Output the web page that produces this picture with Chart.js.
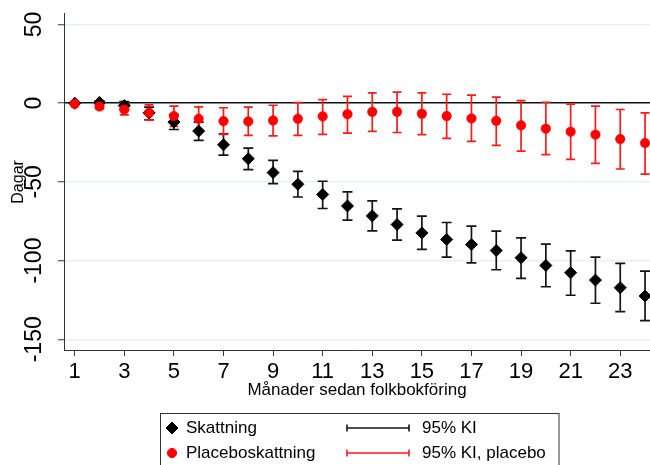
<!DOCTYPE html>
<html>
<head>
<meta charset="utf-8">
<script src="https://cdn.jsdelivr.net/npm/chart.js@4.4.1/dist/chart.umd.min.js"></script>
<style>
  html, body { margin: 0; padding: 0; background: #fff; }
  canvas { display: block; }
</style>
</head>
<body>
<canvas id="chart" width="650" height="465"></canvas>
<script>
// Months since registration (x) and tick labels
const months = [1,2,3,4,5,6,7,8,9,10,11,12,13,14,15,16,17,18,19,20,21,22,23,24];
const xTicks = [1,3,5,7,9,11,13,15,17,19,21,23];
const yTicks = [-150,-100,-50,0,50];

// Estimate (days) with 95% confidence interval
const est   = [0, 0.5, -1.5, -6.1, -12, -17.7, -26.4, -35.3, -44.1, -51.5, -58, -65.3, -71.6, -77.1, -82.4, -86.6, -89.8, -93.6, -98.2, -103.1, -107.7, -112.4, -117.2, -122.5];
const estLo = [0, -0.5, -4, -10.5, -16.7, -23.6, -33, -42.2, -51.1, -59.6, -66.9, -74.3, -81.1, -87, -92.9, -97.8, -101.4, -105.8, -111.3, -116.6, -122, -127.1, -132.4, -138.1];
const estHi = [0, 1.5, 1, -2.5, -7.3, -12, -19.4, -28.5, -36.3, -43.3, -49.6, -56.4, -62.1, -67.2, -71.8, -75.8, -78.1, -81.3, -85.5, -89.5, -93.8, -97.8, -101.8, -106.7];

// Placebo estimate with 95% confidence interval
const plac   = [-0.4, -2.1, -4, -6.1, -8.2, -9.9, -11.4, -11.6, -11, -9.9, -8.4, -7, -5.5, -5.5, -6.7, -8.2, -9.7, -11.2, -14.1, -16.2, -18.1, -20, -22.8, -25.3];
const placLo = [-0.4, -3.4, -7.4, -10.8, -14.8, -17.7, -19.8, -20.5, -20.7, -20.5, -19.8, -19, -17.9, -18.6, -20, -22.4, -24.3, -26.8, -30.4, -32.7, -35.7, -38.2, -41.8, -45];
const placHi = [-0.4, -0.8, 0, -1, -1.9, -2.3, -2.9, -2.5, -1.3, 0.4, 2.3, 4.4, 6.6, 7, 6.6, 5.7, 5.1, 3.8, 1.7, 0.6, -0.6, -1.9, -4, -6.1];

const legendLabels = ['Skattning', 'Placeboskattning', '95% KI', '95% KI, placebo'];

const FONT = '"Liberation Sans", Arial, Helvetica, sans-serif';
const BLACK = '#000000';
const RED = '#ff0000';

const series = [
  { label: legendLabels[0], y: est,  lo: estLo,  hi: estHi,  color: BLACK, bar: '#141414', cap: 5 },
  { label: legendLabels[1], y: plac, lo: placLo, hi: placHi, color: RED,   bar: '#ff1a1a', cap: 4.5 }
];

// Capped vertical interval bars, drawn under the markers
const errorBars = {
  id: 'errorBars',
  beforeDatasetsDraw(chart) {
    const { ctx, scales: { x, y } } = chart;
    ctx.save();
    series.forEach(s => {
      ctx.strokeStyle = s.bar;
      ctx.lineWidth = 1.7;
      months.forEach((m, i) => {
        if (s.lo[i] === s.hi[i]) return;
        const px = x.getPixelForValue(m);
        const p1 = y.getPixelForValue(s.lo[i]);
        const p2 = y.getPixelForValue(s.hi[i]);
        ctx.beginPath();
        ctx.moveTo(px, p1); ctx.lineTo(px, p2);
        ctx.moveTo(px - s.cap, p1); ctx.lineTo(px + s.cap, p1);
        ctx.moveTo(px - s.cap, p2); ctx.lineTo(px + s.cap, p2);
        ctx.stroke();
      });
    });
    ctx.restore();
  }
};

// Boxed two-column legend below the plot
const boxLegend = {
  id: 'boxLegend',
  afterDraw(chart) {
    const ctx = chart.ctx;
    ctx.save();
    ctx.strokeStyle = '#333';
    ctx.lineWidth = 1;
    ctx.strokeRect(160.5, 413.5, 398.5, 70);

    const rows = [428, 453];
    ctx.fillStyle = BLACK; ctx.strokeStyle = BLACK;
    Chart.helpers.drawPoint(ctx, { pointStyle: 'rectRot', radius: 6, borderWidth: 1 }, 172, rows[0]);
    ctx.fillStyle = RED; ctx.strokeStyle = RED;
    Chart.helpers.drawPoint(ctx, { pointStyle: 'circle', radius: 4.6, borderWidth: 0.5 }, 172, rows[1]);

    [[series[0].bar, rows[0]], [series[1].bar, rows[1]]].forEach(([c, yy]) => {
      ctx.strokeStyle = c;
      ctx.lineWidth = 1.6;
      ctx.beginPath();
      ctx.moveTo(347, yy); ctx.lineTo(409, yy);
      ctx.moveTo(347, yy - 3.5); ctx.lineTo(347, yy + 3.5);
      ctx.moveTo(409, yy - 3.5); ctx.lineTo(409, yy + 3.5);
      ctx.stroke();
    });

    ctx.fillStyle = '#000';
    ctx.font = '17px ' + FONT;
    ctx.textBaseline = 'middle';
    ctx.textAlign = 'left';
    ctx.fillText(legendLabels[0], 186, rows[0]);
    ctx.fillText(legendLabels[1], 186, rows[1]);
    ctx.fillText(legendLabels[2], 422, rows[0]);
    ctx.fillText(legendLabels[3], 422, rows[1]);
    ctx.restore();
  }
};

new Chart(document.getElementById('chart'), {
  type: 'scatter',
  data: {
    datasets: [
      {
        label: series[1].label,
        data: months.map((m, i) => ({ x: m, y: plac[i] })),
        pointStyle: 'circle',
        pointRadius: 4.8,
        pointHoverRadius: 4.8,
        backgroundColor: RED,
        borderColor: RED,
        borderWidth: 0.5,
        order: 0,
        clip: false
      },
      {
        label: series[0].label,
        data: months.map((m, i) => ({ x: m, y: est[i] })),
        pointStyle: 'rectRot',
        pointRadius: 6,
        pointHoverRadius: 6,
        backgroundColor: BLACK,
        borderColor: BLACK,
        borderWidth: 1,
        order: 1,
        clip: false
      }
    ]
  },
  options: {
    responsive: false,
    animation: false,
    devicePixelRatio: 1,
    layout: { autoPadding: false, padding: { top: 13, right: 0, bottom: 63, left: 0 } },
    plugins: { legend: { display: false }, tooltip: { enabled: false } },
    scales: {
      x: {
        type: 'linear',
        min: 0.568,
        max: 24.2,
        afterBuildTicks: s => { s.ticks = xTicks.map(v => ({ value: v })); },
        afterFit: s => { s.height = 52; },
        ticks: {
          autoSkip: false, maxRotation: 0, minRotation: 0, padding: 3,
          color: '#000', font: { family: FONT, size: 22 },
          callback: v => String(v)
        },
        grid: { drawOnChartArea: false, tickLength: 6, tickColor: '#333', tickWidth: 1 },
        border: { color: '#333', width: 1 },
        title: {
          display: true, text: 'Månader sedan folkbokföring', color: '#000',
          font: { family: FONT, size: 17 }, padding: { top: 0, bottom: 1 }
        }
      },
      y: {
        type: 'linear',
        min: -156.8,
        max: 56.8,
        afterBuildTicks: s => { s.ticks = yTicks.map(v => ({ value: v })); },
        afterFit: s => { s.width = 64; },
        ticks: {
          autoSkip: false, minRotation: 90, maxRotation: 90, crossAlign: 'center', padding: 0,
          color: '#000', font: { family: FONT, size: 23 },
          callback: v => String(v)
        },
        grid: {
          color: c => (c.tick && c.tick.value === 0) ? '#111' : '#e9eff2',
          lineWidth: 1.5,
          tickLength: 6, tickColor: '#333', tickWidth: 1
        },
        border: { color: '#333', width: 1 },
        title: {
          display: true, text: 'Dagar', color: '#000',
          font: { family: FONT, size: 16 }, padding: { top: 9, bottom: 0 }
        }
      }
    }
  },
  plugins: [errorBars, boxLegend]
});
</script>
</body>
</html>
